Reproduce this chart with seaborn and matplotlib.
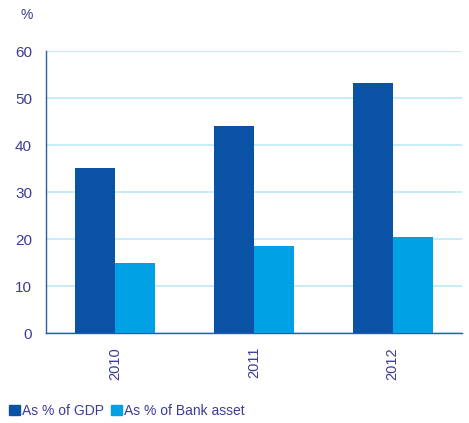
import pandas as pd
import matplotlib.pyplot as plt
import seaborn as sns

years = ['2010', '2011', '2012']
gdp_share = [35.1, 44.0, 53.2]
bank_share = [14.9, 18.5, 20.4]
series_names = ['As % of GDP', 'As % of Bank asset']

df = pd.DataFrame({
    'Year': years * 2,
    'Value': gdp_share + bank_share,
    'Series': [series_names[0]] * 3 + [series_names[1]] * 3,
})

sns.set_style('white')
plt.rcParams['font.family'] = ['Liberation Sans', 'DejaVu Sans']

text_col = '#3b3c96'
axis_col = '#2a5aa8'
palette = {series_names[0]: '#0a52a5', series_names[1]: '#00a0e4'}

fig = plt.figure(figsize=(4.69, 4.23), dpi=100)
ax = fig.add_axes([46 / 469, 1 - 333 / 423, (462 - 46) / 469, (333 - 51) / 423])

sns.barplot(data=df, x='Year', y='Value', hue='Series', palette=palette,
            width=0.575, saturation=1, linewidth=0, ax=ax, legend=False, zorder=3)

ax.set_ylim(0, 60)
ax.set_xlim(-0.5, 2.5)
ax.set_yticks(range(0, 61, 10))
ax.yaxis.grid(True, color='#bde9f8', linewidth=1.2, zorder=0)
ax.xaxis.grid(False)
ax.set_axisbelow(True)

for s in ['top', 'right']:
    ax.spines[s].set_visible(False)
for s in ['left', 'bottom']:
    ax.spines[s].set_color(axis_col)
    ax.spines[s].set_linewidth(1.0)

ax.set_xticks([0, 1, 2])
ax.set_xticklabels(years, rotation=90, color=text_col, fontsize=10.5)
ax.set_xticks([-0.5, 0.5, 1.5, 2.5], minor=True)
ax.tick_params(axis='x', which='major', length=0, pad=10)
ax.tick_params(axis='x', which='minor', length=5, color=axis_col, width=1, direction='out')
ax.tick_params(axis='y', length=5, color=axis_col, width=1, direction='out',
               labelcolor=text_col, labelsize=11, pad=5)
ax.set_xlabel('')
ax.set_ylabel('')

fig.text(27 / 469, 1 - 15 / 423, '%', color=text_col, fontsize=10, ha='center', va='center')

handles = [plt.Rectangle((0, 0), 1, 1, color=palette[n]) for n in series_names]
fig.legend(handles, series_names, loc='center left', bbox_to_anchor=(3 / 469, 1 - 411 / 423),
           frameon=False, ncol=2, handlelength=0.8, handleheight=0.8, handletextpad=0.15,
           columnspacing=0.5, labelcolor=text_col, fontsize=10, borderaxespad=0)

fig.savefig('out.png', dpi=100)
